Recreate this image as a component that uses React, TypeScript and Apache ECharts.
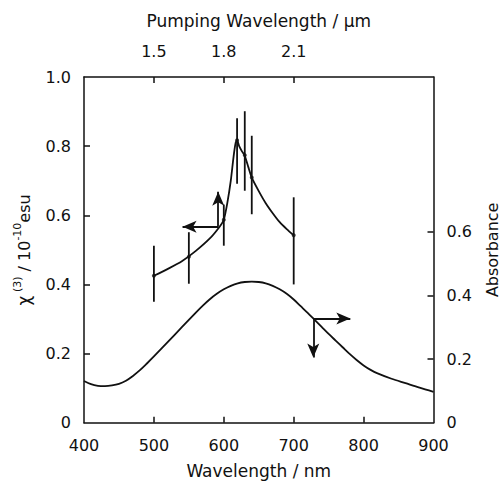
import React, { useEffect, useRef } from "react";
import * as echarts from "echarts";

// χ(3) measured points (wavelength nm, value, error low, error high)
const chiWavelengths = [500, 550, 600, 619, 630, 640, 700];
const chiValues = [0.425, 0.48, 0.587, 0.817, 0.774, 0.709, 0.542];
const chiLow = [0.35, 0.402, 0.512, 0.691, 0.671, 0.603, 0.4];
const chiHigh = [0.512, 0.551, 0.631, 0.881, 0.901, 0.83, 0.652];

// fitted χ(3) curve
const fitWavelengths = [500, 520, 540, 560, 580, 594, 600, 605, 610, 614, 617, 619, 622, 626, 630, 635, 640, 650, 660, 670, 680, 690, 700];
const fitValues = [0.425, 0.445, 0.467, 0.497, 0.533, 0.567, 0.587, 0.635, 0.7, 0.77, 0.81, 0.817, 0.8, 0.785, 0.772, 0.74, 0.709, 0.67, 0.635, 0.606, 0.58, 0.56, 0.542];

// absorbance spectrum
const absWavelengths = [400, 410, 420, 430, 440, 450, 460, 470, 480, 490, 500, 520, 540, 560, 570, 580, 590, 600, 610, 620, 630, 640, 650, 660, 670, 680, 690, 700, 710, 720, 730, 740, 750, 760, 770, 780, 790, 800, 810, 820, 840, 860, 880, 900];
const absValues = [0.131, 0.121, 0.116, 0.115, 0.117, 0.122, 0.132, 0.147, 0.165, 0.186, 0.208, 0.254, 0.3, 0.346, 0.368, 0.388, 0.405, 0.419, 0.43, 0.438, 0.442, 0.443, 0.442, 0.438, 0.43, 0.419, 0.405, 0.387, 0.366, 0.345, 0.323, 0.301, 0.279, 0.258, 0.237, 0.216, 0.197, 0.18, 0.166, 0.155, 0.138, 0.124, 0.11, 0.097];

const bottomTicks = [500, 600, 700, 800];
const topTicks = [500, 600, 700];
const leftTicks = [0.2, 0.4, 0.6, 0.8];
const rightLabels = [0, 0.2, 0.4, 0.6];
const rightTicks = [0.2, 0.4, 0.6];

const FONT = "DejaVu Sans";
const INK = "#111";

export default function App() {
  const ref = useRef<HTMLDivElement>(null);
  useEffect(() => {
    if (!ref.current) return;
    const chart = echarts.init(ref.current, undefined, { renderer: "svg" });
    const labelStyle = { color: INK, fontFamily: FONT, fontSize: 16 };
    const axisLine = { show: true, onZero: false, lineStyle: { color: INK, width: 1.5 } };
    const tickLine = { color: INK, width: 1.5 };
    const fmt = (v: number) => (v === 0 ? "0" : v.toFixed(1));
    chart.setOption({
      animation: false,
      backgroundColor: "#fff",
      grid: { left: 84, right: 70.5, top: 77, bottom: 59.3, containLabel: false, outerBoundsMode: "none" },
      xAxis: [
        {
          type: "value",
          min: 400,
          max: 900,
          interval: 100,
          position: "bottom",
          axisLine,
          axisTick: { show: true, inside: true, length: 6, customValues: bottomTicks, lineStyle: tickLine },
          axisLabel: { ...labelStyle, margin: 15 },
          splitLine: { show: false },
          name: "Wavelength / nm",
          nameLocation: "middle",
          nameGap: 40,
          nameTextStyle: { color: INK, fontFamily: FONT, fontSize: 17 },
        },
        {
          type: "value",
          min: 400,
          max: 900,
          position: "top",
          axisLine,
          axisTick: { show: true, inside: true, length: 6, customValues: topTicks, lineStyle: tickLine },
          axisLabel: {
            ...labelStyle,
            margin: 18,
            customValues: topTicks,
            formatter: (v: number) => ((v * 3) / 1000).toFixed(1),
          },
          splitLine: { show: false },
          name: "Pumping Wavelength / μm",
          nameLocation: "middle",
          nameGap: 48,
          nameTextStyle: { color: INK, fontFamily: FONT, fontSize: 17 },
        },
      ],
      yAxis: [
        {
          type: "value",
          min: 0,
          max: 1,
          interval: 0.2,
          position: "left",
          axisLine,
          axisTick: { show: true, inside: true, length: 6, customValues: leftTicks, lineStyle: tickLine },
          axisLabel: { ...labelStyle, margin: 13, formatter: fmt },
          splitLine: { show: false },
          name: "{g|χ}{sup| (3)}{n| / 10}{sup|-10}{sub|esu}",
          nameLocation: "middle",
          nameGap: 52,
          nameRotate: 90,
          nameTextStyle: {
            color: INK,
            fontFamily: FONT,
            fontSize: 16,
            rich: {
              g: { fontFamily: FONT, fontSize: 17, color: INK, lineHeight: 20, verticalAlign: "middle", padding: [4, 0, 0, 0] },
              n: { fontFamily: FONT, fontSize: 16, color: INK, lineHeight: 20, verticalAlign: "middle", padding: [4, 0, 0, 0] },
              sup: { fontFamily: FONT, fontSize: 11, color: INK, lineHeight: 20, verticalAlign: "top" },
              sub: { fontFamily: FONT, fontSize: 16, color: INK, lineHeight: 20, verticalAlign: "bottom", padding: [8, 0, 0, 0] },
            },
          },
        },
        {
          type: "value",
          min: 0,
          max: 1.086,
          interval: 0.2,
          position: "right",
          axisLine,
          axisTick: { show: true, inside: true, length: 6, customValues: rightTicks, lineStyle: tickLine },
          axisLabel: { ...labelStyle, margin: 13, customValues: rightLabels, formatter: fmt },
          splitLine: { show: false },
          name: "Absorbance",
          nameLocation: "middle",
          nameGap: 51,
          nameRotate: 90,
          nameTextStyle: { color: INK, fontFamily: FONT, fontSize: 16 },
        },
      ],
      series: [
        {
          type: "line",
          name: "fit",
          xAxisIndex: 0,
          yAxisIndex: 0,
          data: fitWavelengths.map((w, i) => [w, fitValues[i]]),
          showSymbol: false,
          smooth: 0.2,
          lineStyle: { color: INK, width: 1.8 },
          markLine: {
            silent: true,
            symbol: ["none", "arrow"],
            symbolSize: [9, 14],
            label: { show: false },
            lineStyle: { color: INK, width: 1.8, type: "solid" },
            data: [
              [{ coord: [592, 0.567] }, { coord: [541, 0.567] }],
              [{ coord: [592, 0.567] }, { coord: [592, 0.668] }],
            ],
          },
        },
        {
          type: "custom",
          name: "errors",
          xAxisIndex: 0,
          yAxisIndex: 0,
          data: chiWavelengths.map((w, i) => [w, chiLow[i], chiHigh[i]]),
          encode: { x: 0, y: [1, 2] },
          renderItem: (params: any, api: any) => {
            const x = api.value(0);
            const p1 = api.coord([x, api.value(1)]);
            const p2 = api.coord([x, api.value(2)]);
            return {
              type: "line",
              shape: { x1: p1[0], y1: p1[1], x2: p2[0], y2: p2[1] },
              style: { stroke: INK, lineWidth: 1.8 },
            };
          },
        },
        {
          type: "scatter",
          name: "chi3",
          xAxisIndex: 0,
          yAxisIndex: 0,
          data: chiWavelengths.map((w, i) => [w, chiValues[i]]),
          symbol: "circle",
          symbolSize: 4,
          itemStyle: { color: INK },
        },
        {
          type: "line",
          name: "absorbance",
          xAxisIndex: 0,
          yAxisIndex: 1,
          data: absWavelengths.map((w, i) => [w, absValues[i]]),
          showSymbol: false,
          smooth: 0.3,
          lineStyle: { color: INK, width: 1.8 },
          markLine: {
            silent: true,
            symbol: ["none", "arrow"],
            symbolSize: [9, 14],
            label: { show: false },
            lineStyle: { color: INK, width: 1.8, type: "solid" },
            data: [
              [{ coord: [728, 0.327] }, { coord: [781, 0.327] }],
              [{ coord: [728, 0.327] }, { coord: [728, 0.205] }],
            ],
          },
        },
      ],
    });
    return () => chart.dispose();
  }, []);
  return (
    <div
      ref={ref}
      style={{ position: "absolute", left: 0, top: 0, width: 504, height: 482, background: "#fff" }}
    />
  );
}
